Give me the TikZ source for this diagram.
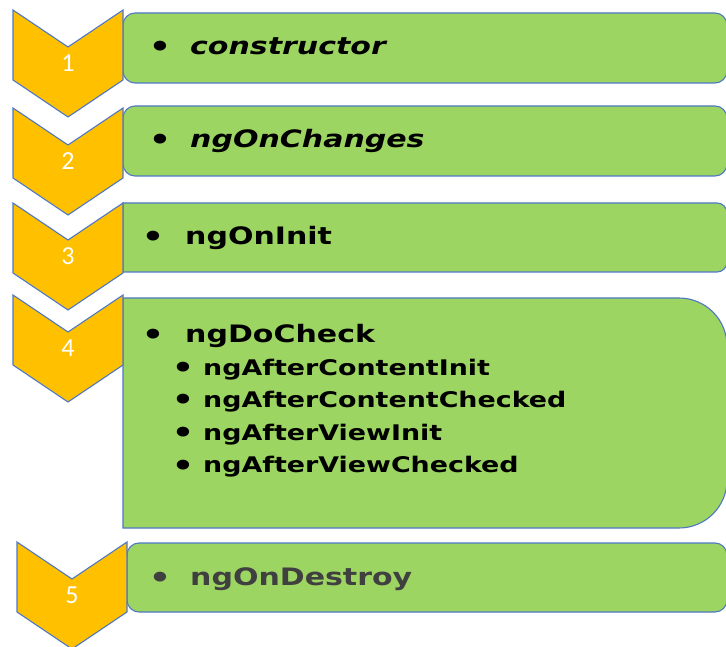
\documentclass[tikz,border=0pt]{standalone}
\usepackage{fontspec}
\setmainfont{DejaVu Sans}[FakeStretch=1.25]
\newfontfamily\numfont{Carlito}
\usetikzlibrary{calc}
\definecolor{hookgreen}{RGB}{157,213,99}
\definecolor{stepgold}{RGB}{255,192,0}
\definecolor{edgeblue}{RGB}{79,120,196}
\definecolor{softgray}{RGB}{64,64,64}
\newcommand{\cw}{110}
\newcommand{\cd}{37}
\newcommand{\ch}{70}
% chevron: top-left corner, number, name
\newcommand{\mchev}[3]{
  \coordinate (tl) at #1;
  \draw [chevron] (tl) -- ++(\cw/2,-\cd) -- ++(\cw/2,\cd) -- ++(0,-\ch)
    -- ++(-\cw/2,-\cd) -- ++(-\cw/2,\cd) -- cycle;
  \node [numlabel] (#3) at ($(tl)+(\cw/2,-53)$) {#2};
}
% box with square left side: lower-left, upper-right, radius
\newcommand{\mhook}[3]{
  \coordinate (ll) at #1;
  \coordinate (ur) at #2;
  \draw [hookbox] (ll) -- ($(ll-|ur)+(-#3,0)$) arc [start angle=-90,end angle=0,radius=#3]
    -- ($(ur)+(0,-#3)$) arc [start angle=0,end angle=90,radius=#3] -- (ll|-ur) -- cycle;
}
\tikzset{
  chevron/.style={fill=stepgold,draw=edgeblue,line width=1.1pt,line join=miter},
  hookbox/.style={fill=hookgreen,draw=edgeblue,line width=1.1pt},
  numlabel/.style={text=white,font=\numfont\fontsize{26}{30}\selectfont},
  hook/.style={anchor=base west,inner sep=0pt,font=\bfseries\fontsize{24}{28}\selectfont},
  subhook/.style={anchor=base west,inner sep=0pt,font=\bfseries\fontsize{21.5}{25}\selectfont},
  dot/.style={anchor=base,inner sep=0pt,font=\bfseries\fontsize{28}{32}\selectfont},
}

\begin{document}
\begin{tikzpicture}[x=1pt,y=1pt]
  \useasboundingbox (0,0) rectangle (726,646);
  \clip (0,0) rectangle (726,646);

  \draw [hookbox,rounded corners=12] (123,563) rectangle (727,633);
  \draw [hookbox,rounded corners=12] (123,470) rectangle (727,540);
  \mhook{(123,374)}{(727,443)}{10}
  \mhook{(123,118)}{(727,348)}{48}
  \draw [hookbox,rounded corners=12] (127,34) rectangle (727,103);

  \mchev{(13,636)}{1}{n1}
  \mchev{(13,538)}{2}{n2}
  \mchev{(13,443)}{3}{n3}
  \mchev{(13,351)}{4}{n4}
  \mchev{(17,104)}{5}{n5}

  \node [dot] (b1) at (160,589) {\textbullet};
  \node [hook] (h1) at (190,591) {\itshape constructor};
  \node [dot] (b2) at (160,496) {\textbullet};
  \node [hook] (h2) at (190,498) {\itshape ngOnChanges};
  \node [dot] (b3) at (153,399) {\textbullet};
  \node [hook] (h3) at (185,401) {ngOnInit};
  \node [dot] (b4) at (153,301) {\textbullet};
  \node [hook] (h4) at (185,303) {ngDoCheck};
  \node [dot] (b41) at (183,268) {\textbullet};
  \node [subhook] (h41) at (203,270) {ngAfterContentInit};
  \node [dot] (b42) at (183,236) {\textbullet};
  \node [subhook] (h42) at (203,238) {ngAfterContentChecked};
  \node [dot] (b43) at (183,203) {\textbullet};
  \node [subhook] (h43) at (203,205) {ngAfterViewInit};
  \node [dot] (b44) at (183,171) {\textbullet};
  \node [subhook] (h44) at (203,173) {ngAfterViewChecked};
  \node [dot,text=softgray] (b5) at (160,59) {\textbullet};
  \node [hook,text=softgray] (h5) at (190,61) {ngOnDestroy};
\end{tikzpicture}
\end{document}
